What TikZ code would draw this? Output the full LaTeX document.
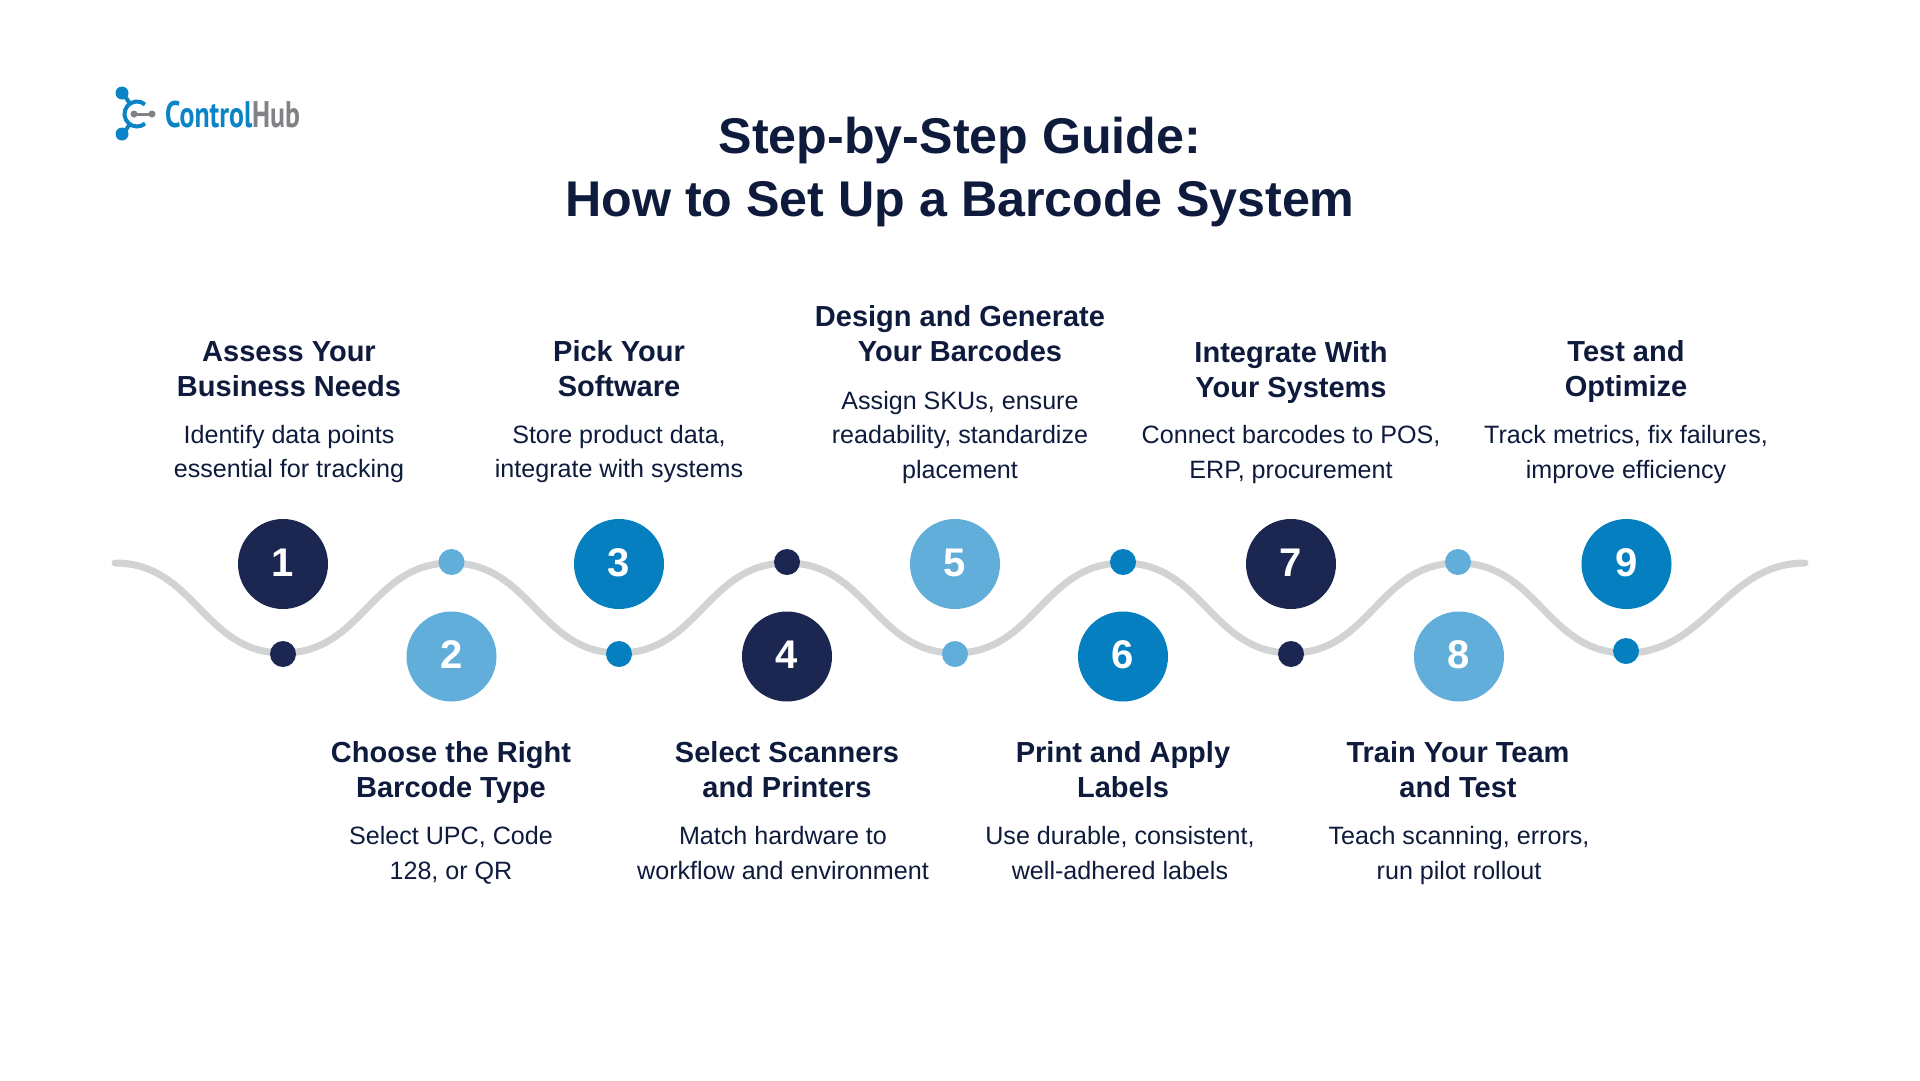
\documentclass[tikz,border=0pt]{standalone}
\usepackage{fontspec}
\setmainfont{Liberation Sans}
\newfontfamily\logofont{PT Sans}
\definecolor{navy}{HTML}{1B2750}
\definecolor{midblue}{HTML}{057FBF}
\definecolor{lightblue}{HTML}{62AEDA}
\definecolor{wave}{HTML}{D1D3D4}
\definecolor{ink}{HTML}{0F1B3D}
\definecolor{logogray}{HTML}{808285}
\definecolor{logoblue}{HTML}{0A84C6}
\newcommand{\numtxt}[1]{\raisebox{3.5pt}{#1}}
\tikzset{
  numdisc/.style={circle,minimum size=90pt,inner sep=0pt,text=white,font=\fontsize{40}{40}\selectfont\bfseries},
  wavedot/.style={circle,minimum size=26pt,inner sep=0pt},
  stephead/.style={align=center,text=ink,inner sep=0pt,anchor=base,font=\fontsize{29}{35}\selectfont\bfseries},
  stepbody/.style={align=center,text=ink,inner sep=0pt,anchor=base,font=\fontsize{25.1}{34.3}\selectfont},
  titletext/.style={align=center,text=ink,inner sep=0pt,anchor=base,font=\fontsize{50.2}{63.5}\selectfont\bfseries},
}
\begin{document}
\begin{tikzpicture}[x=1pt,y=-1pt]
\useasboundingbox (0,0) rectangle (1920,1080);
\fill[white] (0,0) rectangle (1920,1080);
% logo
\draw[logoblue,line width=4pt] (145,104.4) arc[start angle=-50,end angle=-310,radius=12.5];
\draw[logoblue,line width=4pt] (123,93) -- (130,104);
\draw[logoblue,line width=4pt] (123,134) -- (130,124);
\fill[logoblue] (122,93) circle (6.5) (122,134) circle (6.5);
\draw[logogray,line width=3pt] (133,114) -- (152,114);
\fill[logogray] (134,114) circle (3.5) (152,114) circle (3.5);
\node[inner sep=0pt,anchor=base west,xscale=.75,transform shape] (logo) at (165,127) {\logofont\fontsize{37}{37}\selectfont\bfseries\textcolor{logoblue}{Control}\textcolor{logogray}{Hub}};
% title
\node[titletext] (title) at (960,216.5) {Step-by-Step Guide:\\How to Set Up a Barcode System};
% wave
\coordinate (w0) at (115,563);
\coordinate (wb1) at (283,653);
\coordinate (wt1) at (451,563);
\coordinate (wb2) at (619,653);
\coordinate (wt2) at (787,563);
\coordinate (wb3) at (955,653);
\coordinate (wt3) at (1123,563);
\coordinate (wb4) at (1291,653);
\coordinate (wt4) at (1458,563);
\coordinate (wb5) at (1626,653);
\coordinate (w1) at (1805,563);
\draw[wave,line width=7pt,line cap=round]
 (w0) .. controls +(80,0) and +(-80,0) .. (wb1)
 .. controls +(80,0) and +(-80,0) .. (wt1)
 .. controls +(80,0) and +(-80,0) .. (wb2)
 .. controls +(80,0) and +(-80,0) .. (wt2)
 .. controls +(80,0) and +(-80,0) .. (wb3)
 .. controls +(80,0) and +(-80,0) .. (wt3)
 .. controls +(80,0) and +(-80,0) .. (wb4)
 .. controls +(80,0) and +(-80,0) .. (wt4)
 .. controls +(80,0) and +(-80,0) .. (wb5)
 .. controls +(80,0) and +(-80,0) .. (w1);
\node[wavedot,fill=navy] (d1) at (283,654) {};
\node[wavedot,fill=lightblue] (d2) at (451.5,562) {};
\node[wavedot,fill=midblue] (d3) at (619,654) {};
\node[wavedot,fill=navy] (d4) at (787,562) {};
\node[wavedot,fill=lightblue] (d5) at (955,654) {};
\node[wavedot,fill=midblue] (d6) at (1123,562) {};
\node[wavedot,fill=navy] (d7) at (1291,654) {};
\node[wavedot,fill=lightblue] (d8) at (1458,562) {};
\node[wavedot,fill=midblue] (d9) at (1626,651) {};
% discs
\node[numdisc,fill=navy] (n1) at (283,564) {\numtxt{1}};
\node[numdisc,fill=lightblue] (n2) at (451.5,656.5) {\numtxt{2}};
\node[numdisc,fill=midblue] (n3) at (619,564) {\numtxt{3}};
\node[numdisc,fill=navy] (n4) at (787,656.5) {\numtxt{4}};
\node[numdisc,fill=lightblue] (n5) at (955,564) {\numtxt{5}};
\node[numdisc,fill=midblue] (n6) at (1123,656.5) {\numtxt{6}};
\node[numdisc,fill=navy] (n7) at (1291,564) {\numtxt{7}};
\node[numdisc,fill=lightblue] (n8) at (1459,656.5) {\numtxt{8}};
\node[numdisc,fill=midblue] (n9) at (1626.5,564) {\numtxt{9}};
% top text
\node[stephead] (h1) at (289,396) {Assess Your\\Business Needs};
\node[stepbody] (b1) at (289,477.5) {Identify data points\\essential for tracking};
\node[stephead] (h3) at (619,396) {Pick Your\\Software};
\node[stepbody] (b3) at (619,477.5) {Store product data,\\integrate with systems};
\node[stephead] (h5) at (960,361) {Design and Generate\\Your Barcodes};
\node[stepbody] (b5) at (960,478) {Assign SKUs, ensure\\readability, standardize\\placement};
\node[stephead] (h7) at (1291,397) {Integrate With\\Your Systems};
\node[stepbody] (b7) at (1291,478) {Connect barcodes to POS,\\ERP, procurement};
\node[stephead] (h9) at (1626,396) {Test and\\Optimize};
\node[stepbody] (b9) at (1626,478) {Track metrics, fix failures,\\improve efficiency};
% bottom text
\node[stephead] (h2) at (451,797) {Choose the Right\\Barcode Type};
\node[stepbody] (b2) at (451,879) {Select UPC, Code\\128, or QR};
\node[stephead] (h4) at (787,797) {Select Scanners\\and Printers};
\node[stepbody] (b4) at (783,879) {Match hardware to\\workflow and environment};
\node[stephead] (h6) at (1123,797) {Print and Apply\\Labels};
\node[stepbody] (b6) at (1120,879) {Use durable, consistent,\\well-adhered labels};
\node[stephead] (h8) at (1458,797) {Train Your Team\\and Test};
\node[stepbody] (b8) at (1459,879) {Teach scanning, errors,\\run pilot rollout};
\end{tikzpicture}
\end{document}
